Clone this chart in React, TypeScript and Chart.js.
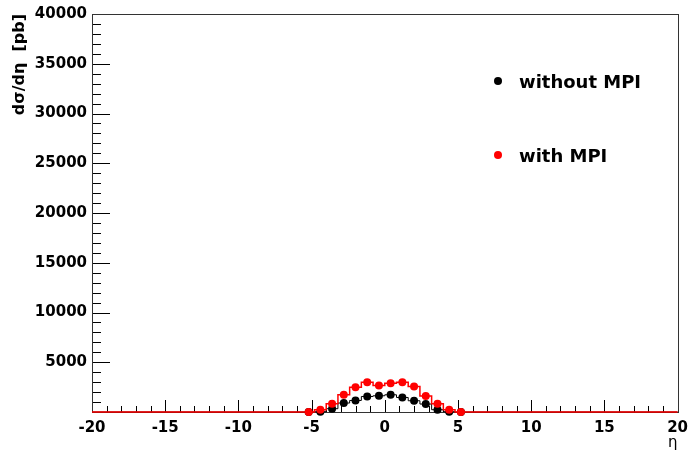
import React, { useEffect, useRef } from "react";
import { Chart, registerables } from "chart.js";

Chart.register(...registerables);

// ---- data ----
const etaCenters = [-5.2, -4.4, -3.6, -2.8, -2.0, -1.2, -0.4, 0.4, 1.2, 2.0, 2.8, 3.6, 4.4, 5.2];
const withoutMPI = [0, 30, 330, 900, 1160, 1560, 1630, 1730, 1460, 1130, 800, 230, 30, 0];
const withMPI = [0, 230, 830, 1730, 2500, 3000, 2670, 2900, 3000, 2560, 1600, 830, 230, 0];
const xRange = [-20, 20];
const yRange = [0, 40000];
const xMajorStep = 5;
const xMinorStep = 1;
const yMajorStep = 5000;
const yMinorStep = 1000;
const legendLabels = ["without MPI", "with MPI"];
const xTitle = "η";
const yTitle = "dσ/dη  [pb]";

const FONT = "'DejaVu Sans', sans-serif";

function pts(vals: number[]) {
  return etaCenters.map((x, i) => ({ x, y: vals[i] }));
}
function stepPts(vals: number[]) {
  return [{ x: xRange[0], y: 0 }, ...pts(vals), { x: xRange[1], y: 0 }];
}

const framePlugin = {
  id: "rootFrame",
  beforeDatasetsDraw(chart: any) {
    const { ctx, chartArea: a, scales } = chart;
    const xs = scales.x, ys = scales.y;
    ctx.save();
    ctx.strokeStyle = "#000";
    ctx.lineWidth = 1;
    for (let v = yRange[0]; v <= yRange[1] + 1e-6; v += yMinorStep) {
      const p = Math.round(ys.getPixelForValue(v)) + 0.5;
      const major = Math.abs(v % yMajorStep) < 1e-6;
      ctx.beginPath();
      ctx.moveTo(a.left, p);
      ctx.lineTo(a.left + (major ? 18 : 9), p);
      ctx.stroke();
    }
    for (let v = xRange[0]; v <= xRange[1] + 1e-6; v += xMinorStep) {
      const p = Math.round(xs.getPixelForValue(v)) + 0.5;
      const major = Math.abs(v % xMajorStep) < 1e-6;
      ctx.beginPath();
      ctx.moveTo(p, a.bottom);
      ctx.lineTo(p, a.bottom - (major ? 12 : 6));
      ctx.stroke();
    }
    ctx.strokeStyle = "#333";
    ctx.strokeRect(Math.round(a.left) + 0.5, Math.round(a.top) + 0.5, Math.round(a.right - a.left), Math.round(a.bottom - a.top));
    ctx.restore();
  },
  afterDraw(chart: any) {
    const { ctx, chartArea: a } = chart;
    const colors = ["#000000", "#ff0000"];
    ctx.save();
    ctx.font = `bold 18px ${FONT}`;
    ctx.textBaseline = "middle";
    ctx.textAlign = "left";
    legendLabels.forEach((lab, i) => {
      const y = a.top + 67 + i * 74;
      const x = a.left + 406;
      ctx.fillStyle = colors[i];
      ctx.beginPath();
      ctx.arc(x, y, 4, 0, Math.PI * 2);
      ctx.fill();
      ctx.fillStyle = "#000";
      ctx.fillText(lab, x + 21, y + 2);
    });
    ctx.restore();
  },
};

export default function App() {
  const ref = useRef<HTMLCanvasElement>(null);
  useEffect(() => {
    document.body.style.margin = "0";
    const chart = new Chart(ref.current!, {
      type: "scatter",
      data: {
        datasets: [
          {
            label: "with MPI markers",
            data: pts(withMPI),
            showLine: false,
            pointRadius: 4,
            pointBackgroundColor: "#ff0000",
            pointBorderWidth: 0,
            order: 0,
            clip: 8,
          },
          {
            label: "with MPI hist",
            data: stepPts(withMPI),
            showLine: true,
            stepped: "middle",
            borderColor: "#ff0000",
            borderWidth: 1.5,
            pointRadius: 0,
            order: 1,
            clip: 8,
          },
          {
            label: "without MPI markers",
            data: pts(withoutMPI),
            showLine: false,
            pointRadius: 4,
            pointBackgroundColor: "#000000",
            pointBorderWidth: 0,
            order: 2,
            clip: 8,
          },
          {
            label: "without MPI hist",
            data: stepPts(withoutMPI),
            showLine: true,
            stepped: "middle",
            borderColor: "#000000",
            borderWidth: 1,
            pointRadius: 0,
            order: 3,
            clip: 8,
          },
        ] as any,
      },
      options: {
        animation: false,
        responsive: false,
        layout: { padding: { top: 12, right: 14, left: 0, bottom: 0 } },
        plugins: { legend: { display: false }, tooltip: { enabled: false } },
        scales: {
          x: {
            type: "linear",
            min: xRange[0],
            max: xRange[1],
            grid: { display: false, drawTicks: false },
            border: { display: false },
            ticks: {
              stepSize: xMajorStep,
              padding: 7,
              color: "#000",
              font: { family: FONT, size: 15, weight: "bold" },
              maxRotation: 0,
            },
            title: {
              display: true,
              text: xTitle,
              align: "end",
              color: "#000",
              font: { family: FONT, size: 15 },
              padding: { top: 0, bottom: 4 },
            },
            afterFit: (s: any) => {
              s.height = 44;
            },
          },
          y: {
            type: "linear",
            min: yRange[0],
            max: yRange[1],
            grid: { display: false, drawTicks: false },
            border: { display: false },
            ticks: {
              stepSize: yMajorStep,
              padding: 5,
              color: "#000",
              font: { family: FONT, size: 15, weight: "bold" },
              callback: (v: any) => (v === 0 ? "" : String(v)),
            },
            title: {
              display: true,
              text: yTitle,
              align: "end",
              color: "#000",
              font: { family: FONT, size: 16, weight: "bold" },
              padding: { top: 10, bottom: 0 },
            },
            afterFit: (s: any) => {
              s.width = 92;
            },
          },
        },
      } as any,
      plugins: [framePlugin],
    });
    return () => chart.destroy();
  }, []);
  return (
    <div style={{ width: 695, height: 456, background: "#fff" }}>
      <canvas ref={ref} width={695} height={456} style={{ display: "block" }} />
    </div>
  );
}
